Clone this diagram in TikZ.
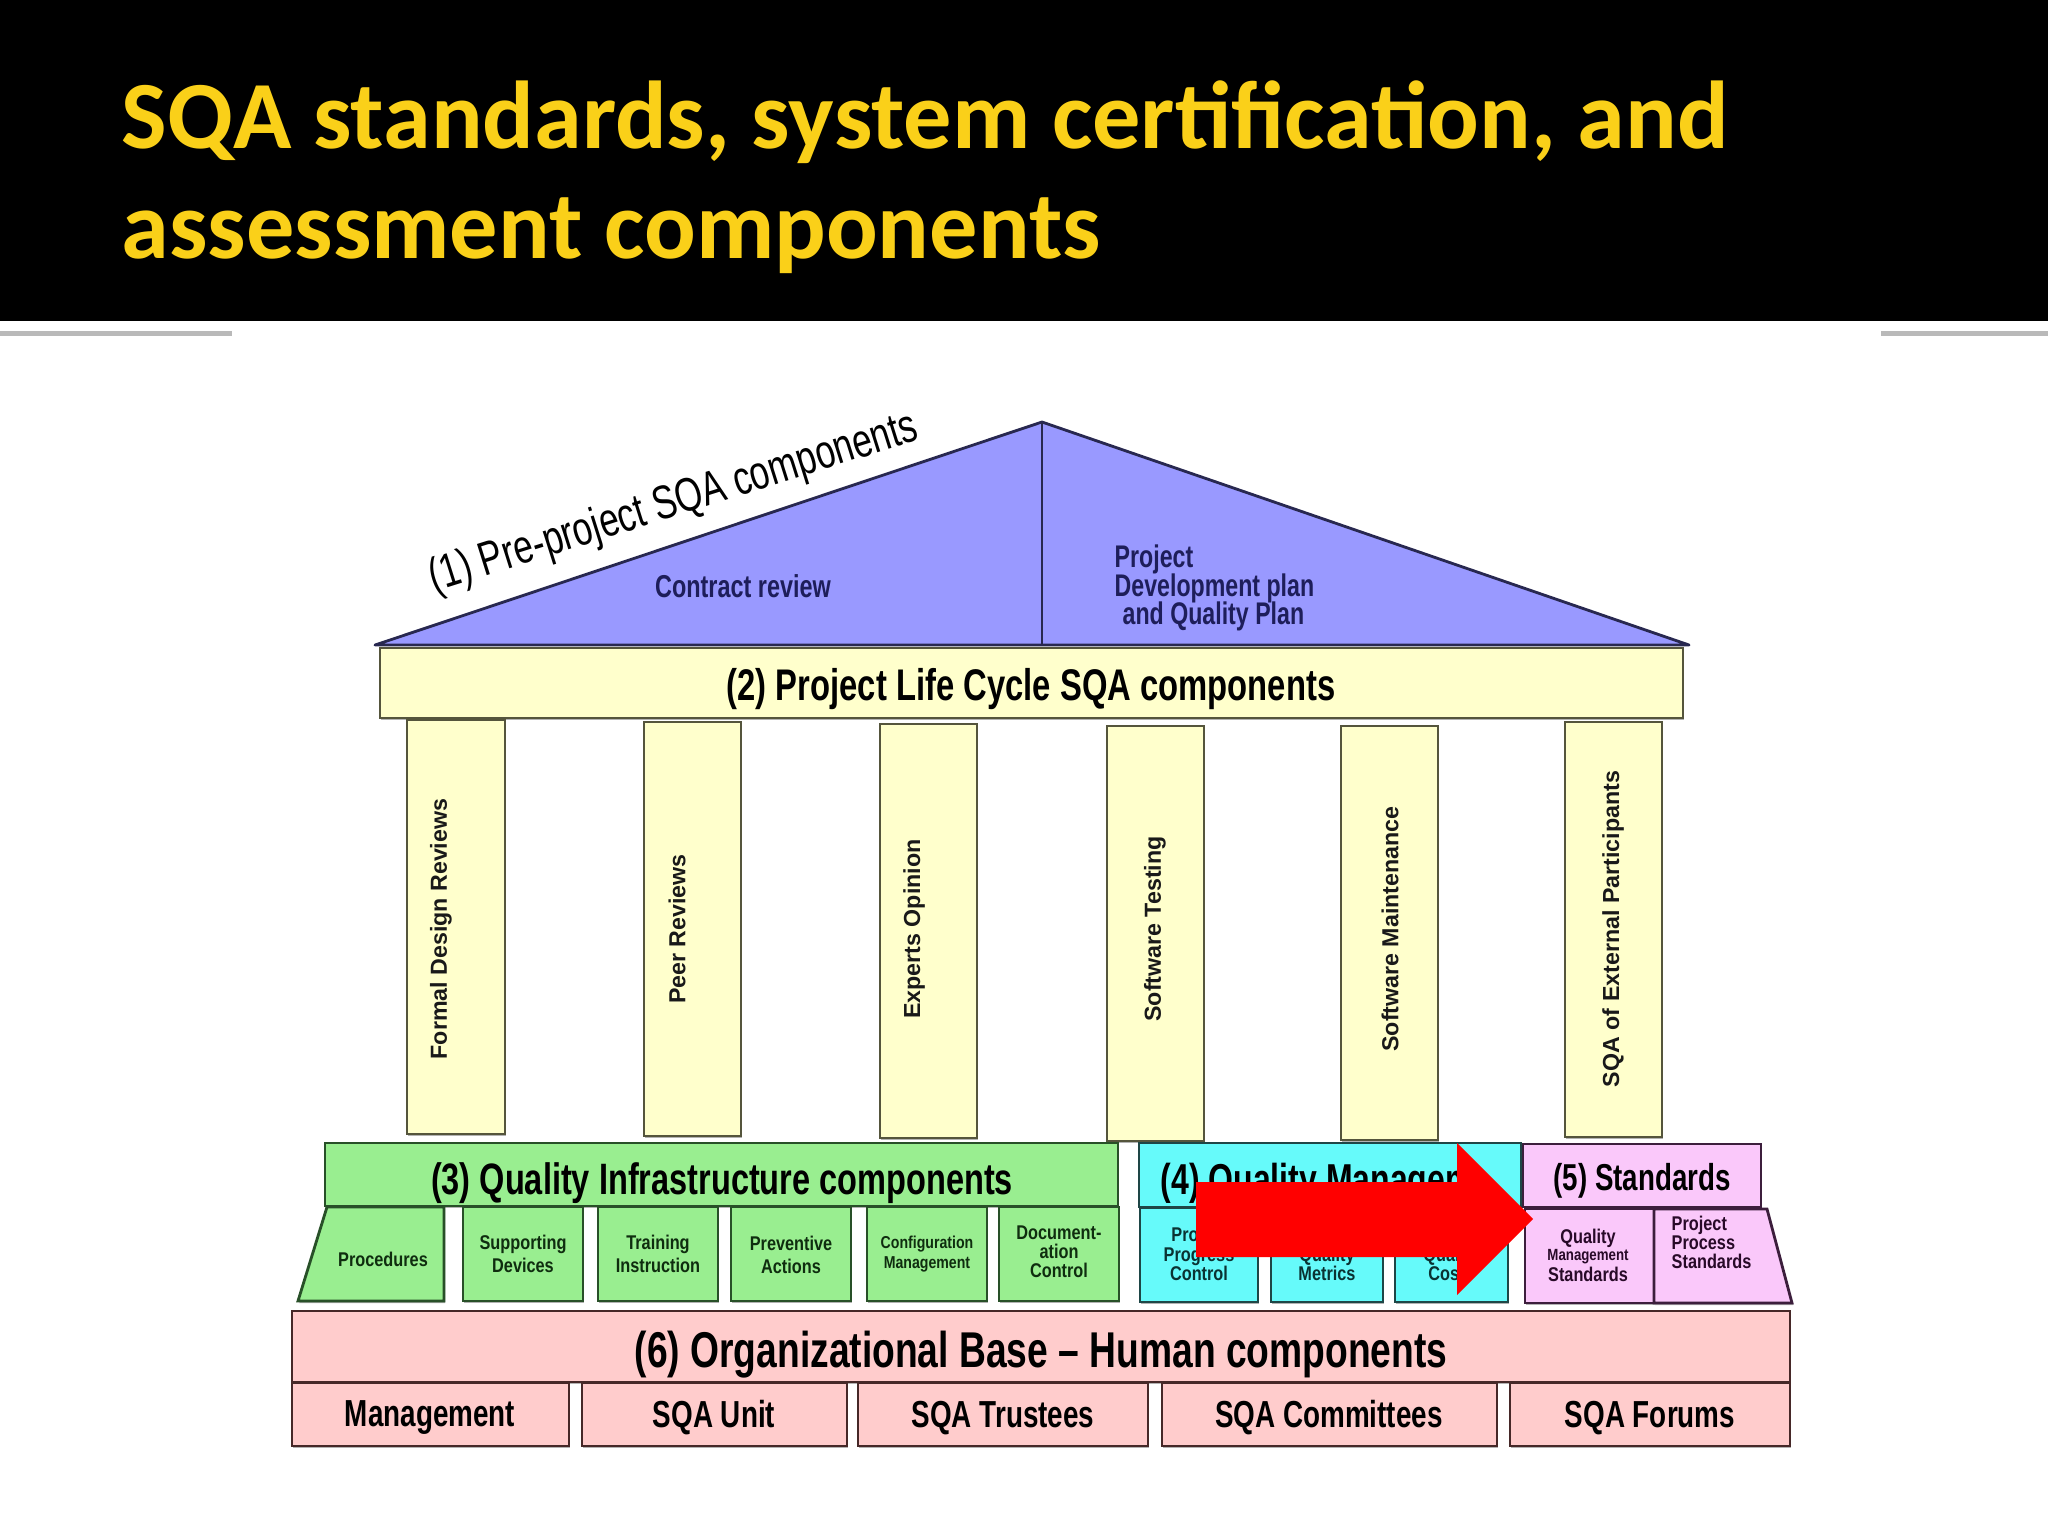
\documentclass[tikz,border=0pt]{standalone}
\usepackage{fontspec}
\setmainfont{Liberation Sans}
\newfontfamily\titlefont{Carlito}
\newfontfamily\hfont{Liberation Sans}[FakeStretch=0.74]
\newfontfamily\sfont{Liberation Sans}[FakeStretch=0.82]
\usetikzlibrary{shadows}
\definecolor{titleyellow}{RGB}{250,208,25}
\definecolor{roofblue}{RGB}{153,153,255}
\definecolor{roofline}{RGB}{40,40,80}
\definecolor{beamyellow}{RGB}{255,255,204}
\definecolor{beamline}{RGB}{85,85,60}
\definecolor{infragreen}{RGB}{153,238,144}
\definecolor{greenline}{RGB}{40,80,40}
\definecolor{mgmtcyan}{RGB}{102,250,250}
\definecolor{cyanline}{RGB}{30,70,70}
\definecolor{stdpink}{RGB}{250,200,250}
\definecolor{stdline}{RGB}{60,30,60}
\definecolor{orgpink}{RGB}{255,204,204}
\definecolor{orgline}{RGB}{70,40,40}
\definecolor{navytext}{RGB}{30,30,90}
\definecolor{greentext}{RGB}{15,45,15}
\definecolor{cyantext}{RGB}{10,50,50}
\definecolor{pinktext}{RGB}{40,10,40}
\newcommand\fsz[2]{\fontsize{#1pt}{#2pt}\selectfont}
\begin{document}
\begin{tikzpicture}[x=0.01cm,y=-0.01cm,
  boxshadow/.style={drop shadow={shadow xshift=0.012cm,shadow yshift=-0.022cm,opacity=0.3,fill=black}},
  roofstyle/.style={fill=roofblue,draw=roofline,line width=0.8pt,line join=round},
  yellowbox/.style={fill=beamyellow,draw=beamline,line width=0.8pt,boxshadow},
  greenbox/.style={fill=infragreen,draw=greenline,line width=0.8pt,boxshadow},
  cyanbox/.style={fill=mgmtcyan,draw=cyanline,line width=0.8pt,boxshadow},
  stdbox/.style={fill=stdpink,draw=stdline,line width=0.8pt,boxshadow},
  orgbox/.style={fill=orgpink,draw=orgline,line width=0.8pt,boxshadow},
  txt/.style={inner sep=0pt,align=center},
  headtxt/.style={txt,font=\hfont\bfseries,text=black},
  coltxt/.style={txt,rotate=90,font=\bfseries\fsz{6.6}{7},text=black!90},
  smalltxt/.style={txt,font=\sfont\bfseries\fsz{5.65}{5.6}},
  orgtxt/.style={txt,font=\hfont\bfseries\fsz{10.7}{12},text=black}
]
\useasboundingbox (0,0) rectangle (2048,1536);
\fill[white] (0,0) rectangle (2048,1536);
% title bar
\fill[black] (0,0) rectangle (2048,321);
\draw[gray!55,line width=0.05cm] (0,333) -- (232,333);
\draw[gray!55,line width=0.05cm] (1881,333) -- (2048,333);
\node[anchor=base west,inner sep=0pt,font=\titlefont\bfseries\fsz{27.4}{30},text=titleyellow] (t1) at (121,148) {SQA standards, system certification, and};
\node[anchor=base west,inner sep=0pt,font=\titlefont\bfseries\fsz{27.4}{30},text=titleyellow] (t2) at (121,258) {assessment components};

% roof
\draw[roofstyle] (375,645) -- (1042,422) -- (1689,645) -- cycle;
\draw[draw=roofline,line width=0.8pt] (1042,422) -- (1042,645);
\node[txt,rotate=17.5,font=\hfont\fsz{13.5}{14},text=black] (pre) at (674,504) {(1) Pre-project SQA components};
\node[txt,font=\hfont\bfseries\fsz{9}{10},text=navytext] (contract) at (743,586) {Contract review};
\node[txt,anchor=west,font=\hfont\bfseries\fsz{8.9}{9},text=navytext] (pd1) at (1114,559) {Project};
\node[txt,anchor=west,font=\hfont\bfseries\fsz{8.9}{9},text=navytext] (pd2) at (1114,588) {Development plan};
\node[txt,anchor=west,font=\hfont\bfseries\fsz{8.9}{9},text=navytext] (pd3) at (1122,616) {and Quality Plan};

% beam
\draw[yellowbox] (380,648) rectangle (1683,718);
\node[headtxt,font=\hfont\bfseries\fsz{12.6}{14}] (life) at (1031,689) {(2) Project Life Cycle SQA components};

% columns
\draw[yellowbox] (407,720) rectangle (505,1134);
\draw[yellowbox] (644,722) rectangle (741,1136);
\draw[yellowbox] (880,724) rectangle (977,1138);
\draw[yellowbox] (1107,726) rectangle (1204,1141);
\draw[yellowbox] (1341,726) rectangle (1438,1140);
\draw[yellowbox] (1565,722) rectangle (1662,1137);
\node[coltxt] (c1) at (441,929) {Formal Design Reviews};
\node[coltxt] (c2) at (677,929) {Peer Reviews};
\node[coltxt] (c3) at (914,929) {Experts Opinion};
\node[coltxt] (c4) at (1155,929) {Software Testing};
\node[coltxt] (c5) at (1390,929) {Software Maintenance};
\node[coltxt] (c6) at (1613,929) {SQA of External Participants};

% (3) infrastructure
\draw[greenbox] (325,1143) rectangle (1118,1206);
\node[headtxt,font=\hfont\bfseries\fsz{12.5}{14}] (infra) at (722,1183) {(3) Quality Infrastructure components};
\draw[greenbox] (327,1207) -- (444,1207) -- (444,1301) -- (298,1301) -- cycle;
\draw[greenbox] (463,1207) rectangle (583,1301);
\draw[greenbox] (598,1207) rectangle (718,1301);
\draw[greenbox] (731,1207) rectangle (851,1301);
\draw[greenbox] (867,1207) rectangle (987,1301);
\draw[greenbox] (999,1207) rectangle (1119,1301);
\node[smalltxt,text=greentext] (proc) at (383,1259) {Procedures};
\node[smalltxt,text=greentext,font=\sfont\bfseries\fsz{5.65}{6.7}] (supp) at (523,1254) {Supporting\\Devices};
\node[smalltxt,text=greentext,font=\sfont\bfseries\fsz{5.65}{6.7}] (train) at (658,1254) {Training\\Instruction};
\node[smalltxt,text=greentext,font=\sfont\bfseries\fsz{5.65}{6.7}] (prev) at (791,1255) {Preventive\\Actions};
\node[smalltxt,text=greentext,font=\sfont\bfseries\fsz{4.9}{5.6}] (conf) at (927,1254) {Configuration\\Management};
\node[smalltxt,text=greentext,font=\sfont\bfseries\fsz{5.65}{5.4}] (docu) at (1059,1252) {Document-\\ation\\Control};

% (4) quality management
\draw[cyanbox] (1139,1143) rectangle (1521,1207);
\begin{scope}
  \clip (1139,1143) rectangle (1460,1207);
  \node[headtxt,anchor=west,font=\hfont\bfseries\fsz{12.3}{14}] (qm) at (1160,1183) {(4) Quality Management};
\end{scope}
\draw[cyanbox] (1140,1208) rectangle (1258,1302);
\draw[cyanbox] (1271,1208) rectangle (1383,1302);
\draw[cyanbox] (1395,1208) rectangle (1508,1302);
\node[smalltxt,text=cyantext] (ppc) at (1199,1254) {Project\\Progress\\Control};
\node[smalltxt,text=cyantext] (qmet) at (1327,1264) {Quality\\Metrics};
\node[smalltxt,text=cyantext] (qcost) at (1451,1264) {Quality\\Costs};

% (5) standards
\draw[stdbox] (1523,1144) rectangle (1761,1207);
\node[headtxt,font=\hfont\bfseries\fsz{10.65}{12}] (std) at (1642,1181) {(5) Standards};
\draw[stdbox] (1525,1209) rectangle (1654,1303);
\draw[stdbox] (1654,1209) -- (1767,1209) -- (1792,1303) -- (1654,1303) -- cycle;
\node[smalltxt,text=pinktext] (qms1) at (1588,1238) {Quality};
\node[smalltxt,text=pinktext,font=\sfont\bfseries\fsz{4.6}{5}] (qms2) at (1588,1257) {Management};
\node[smalltxt,text=pinktext] (qms3) at (1588,1274) {Standards};
\node[smalltxt,anchor=west,align=left,text=pinktext,font=\sfont\bfseries\fsz{5.65}{5.4}] (pps) at (1671,1242) {Project\\Process\\Standards};

% red arrow
\fill[red] (1196,1182) -- (1457,1182) -- (1457,1143) -- (1533,1219) -- (1457,1295) -- (1457,1257) -- (1196,1257) -- cycle;

% (6) organizational base
\draw[orgbox] (292,1311) rectangle (1790,1382);
\node[headtxt,font=\hfont\bfseries\fsz{14.3}{16}] (org) at (1041,1355) {(6) Organizational Base – Human components};
\draw[orgbox] (292,1383) rectangle (569,1446);
\draw[orgbox] (582,1383) rectangle (847,1446);
\draw[orgbox] (858,1383) rectangle (1148,1446);
\draw[orgbox] (1162,1383) rectangle (1497,1446);
\draw[orgbox] (1510,1383) rectangle (1790,1446);
\node[orgtxt] (mgmt) at (430,1418) {Management};
\node[orgtxt] (unit) at (714,1418) {SQA Unit};
\node[orgtxt] (trust) at (1003,1418) {SQA Trustees};
\node[orgtxt] (comm) at (1329,1418) {SQA Committees};
\node[orgtxt] (forum) at (1650,1418) {SQA Forums};
\end{tikzpicture}
\end{document}
